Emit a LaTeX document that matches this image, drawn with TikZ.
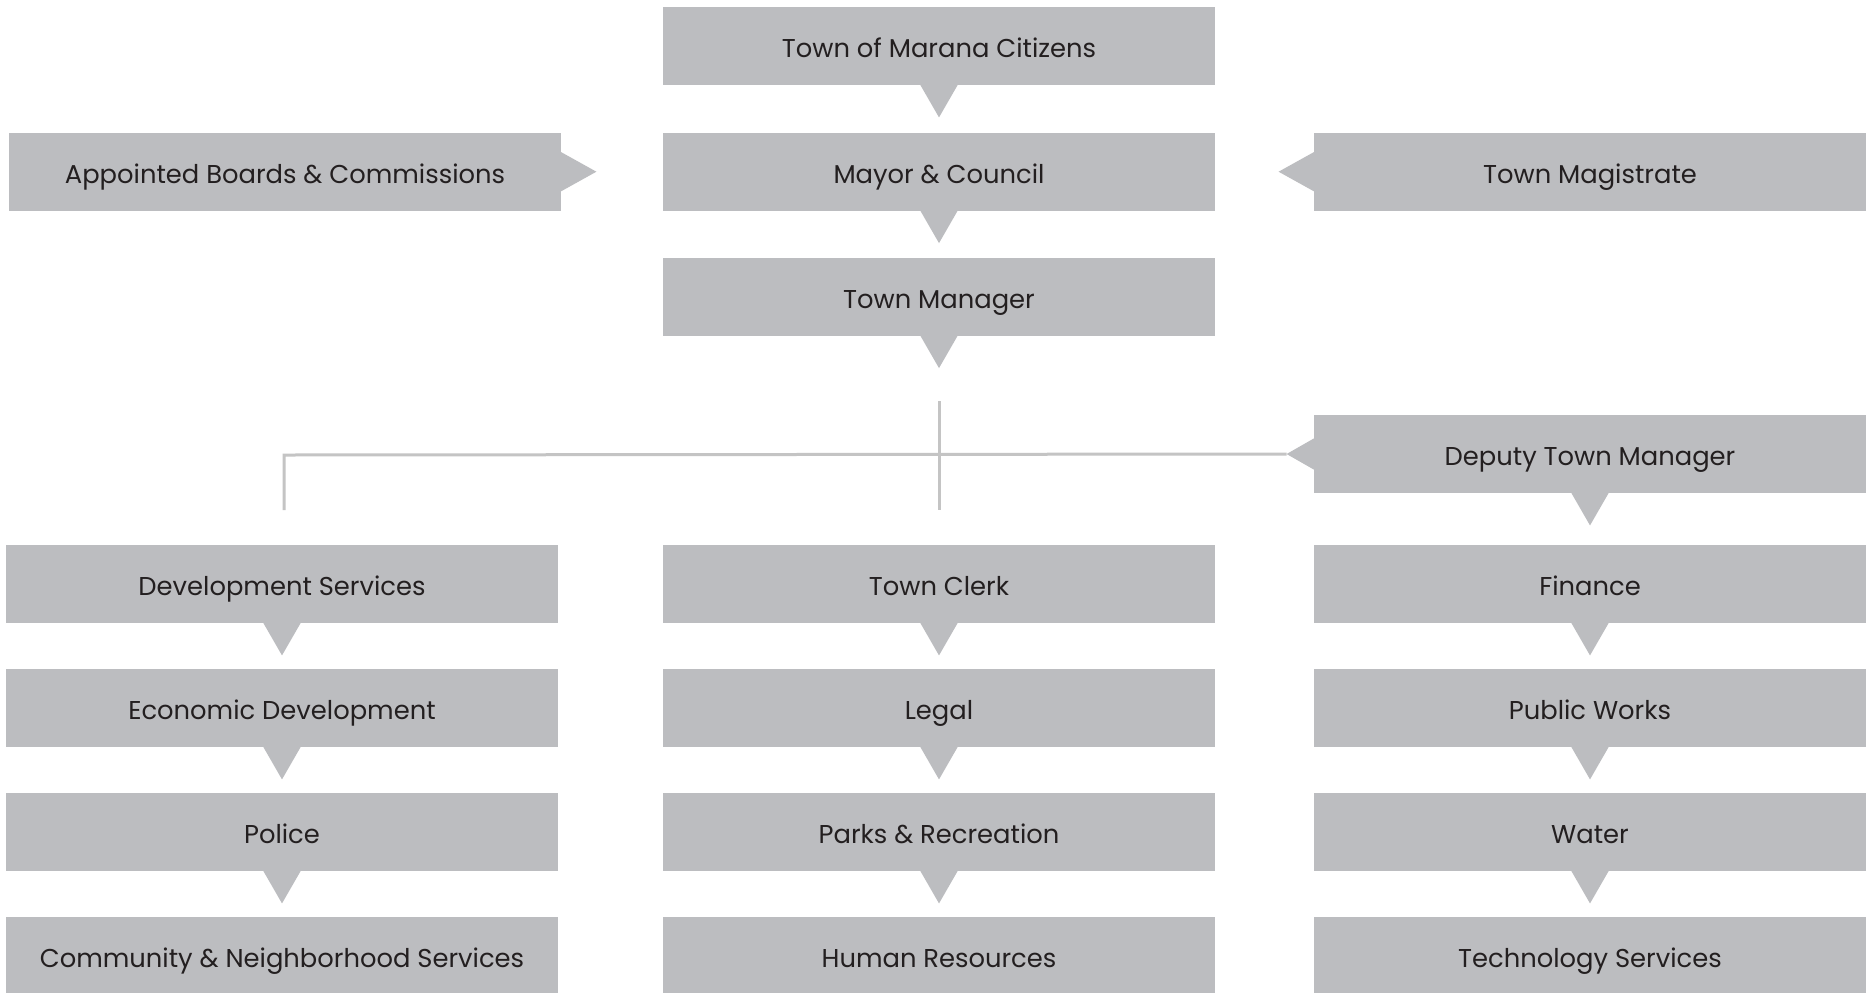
\documentclass[tikz,border=0pt]{standalone}
\usepackage{fontspec}
\setmainfont{Poppins}
\definecolor{boxgray}{RGB}{188,189,192}
\definecolor{linegray}{RGB}{196,196,196}
\definecolor{txt}{RGB}{35,31,32}
\tikzset{
  box/.style={fill=boxgray, minimum width=276pt, minimum height=39pt, inner sep=0pt,
    text height=13.5pt, text depth=2pt,
    text=txt, font=\fontsize{12.9}{15}\selectfont},
  conn/.style={draw=linegray, line width=1.5pt},
  pics/downtri/.style={code={\fill[boxgray] (-9.5pt,0.5pt) -- (0,-16pt) -- (9.5pt,0.5pt) -- cycle;}},
  pics/righttri/.style={code={\fill[boxgray] (-0.5pt,10pt) -- (17.5pt,0) -- (-0.5pt,-10pt) -- cycle;}},
  pics/lefttri/.style={code={\fill[boxgray] (0.5pt,10pt) -- (-17.5pt,0) -- (0.5pt,-10pt) -- cycle;}},
  pics/smalllefttri/.style={code={\fill[boxgray] (0.5pt,8pt) -- (-13.5pt,0) -- (0.5pt,-8pt) -- cycle;}},
}
\begin{document}
\begin{tikzpicture}[x=0.5pt,y=-0.5pt]
\clip (0,0) rectangle (1869,992);
\fill[white] (0,0) rectangle (1869,992);
% top chain
\node[box] (cit) at (939,46) {Town of Marana Citizens};
\node[box] (mayor) at (939,171.7) {Mayor \& Council};
\node[box] (tm) at (939,296.7) {Town Manager};
\node[box] (abc) at (285,171.7) {Appointed Boards \& Commissions};
\node[box] (mag) at (1590,171.7) {Town Magistrate};
\node[box] (dtm) at (1590,454) {Deputy Town Manager};
\pic at (cit.south) {downtri};
\pic at (mayor.south) {downtri};
\pic at (tm.south) {downtri};
\pic at (abc.east) {righttri};
\pic at (mag.west) {lefttri};
\pic at (dtm.west) {smalllefttri};
\pic at (dtm.south) {downtri};
% columns
\node[box] (dev) at (282,584) {Development Services};
\node[box] (eco) at (282,708) {Economic Development};
\node[box] (pol) at (282,832) {Police};
\node[box] (cns) at (282,956) {Community \& Neighborhood Services};
\node[box] (clerk) at (939,584) {Town Clerk};
\node[box] (legal) at (939,708) {Legal};
\node[box] (parks) at (939,832) {Parks \& Recreation};
\node[box] (hr) at (939,956) {Human Resources};
\node[box] (fin) at (1590,584) {Finance};
\node[box] (pw) at (1590,708) {Public Works};
\node[box] (water) at (1590,832) {Water};
\node[box] (tech) at (1590,956) {Technology Services};
\foreach \n in {dev,eco,pol,clerk,legal,parks,fin,pw,water}{\pic at (\n.south) {downtri};}
% connectors
\coordinate (dtip) at ([xshift=-13.5pt]dtm.west);
\coordinate (vtop) at (939,401);
\coordinate (vbot) at (939,510);
\coordinate (hleft) at (284,455);
\coordinate (lbot) at (284,510);
\draw[conn] (vtop) -- (vbot);
\draw[conn] (dtip) -- (hleft) -- (lbot);
\end{tikzpicture}
\end{document}
